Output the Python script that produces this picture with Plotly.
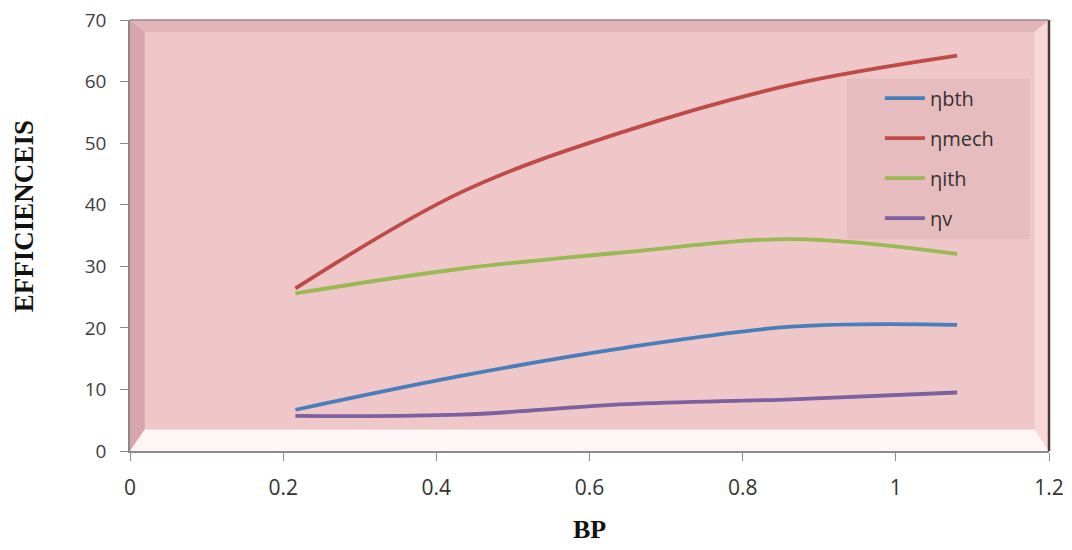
import plotly.graph_objects as go

bp = [0.216, 0.432, 0.648, 0.864, 1.08]
eta_bth = [6.7, 12.2, 16.8, 20.2, 20.5]
eta_mech = [26.4, 42.0, 52.0, 59.5, 64.2]
eta_ith = [25.6, 29.6, 32.3, 34.4, 32.0]
eta_v = [5.7, 5.9, 7.6, 8.4, 9.5]

series = [
    ("ηbth", eta_bth, "#4a7ebb"),
    ("ηmech", eta_mech, "#be4b48"),
    ("ηith", eta_ith, "#98b954"),
    ("ηv", eta_v, "#7d60a0"),
]

x_ticks = [0, 0.2, 0.4, 0.6, 0.8, 1, 1.2]
x_labels = ["0", "0.2", "0.4", "0.6", "0.8", "1", "1.2"]
y_ticks = [0, 10, 20, 30, 40, 50, 60, 70]

fig = go.Figure()
for i, (name, vals, col) in enumerate(series):
    fig.add_trace(go.Scatter(
        x=bp, y=vals, name=name, mode="lines",
        line=dict(color=col, width=3.8, shape="spline", smoothing=1.0),
        legendgroup=f"g{i}",
    ))

# bevel frame shapes (domain fractions of the plot area)
bx = 0.016
by_top = 0.028
by_bot = 0.05
D = dict(xref="x domain", yref="y domain")
shapes = [
    dict(type="path", path=f"M 0 0 L {bx} {by_bot} L {bx} {1-by_top} L 0 1 Z",
         fillcolor="rgba(185,125,135,0.45)", line=dict(width=0), layer="below", **D),
    dict(type="path", path=f"M 0 1 L {bx} {1-by_top} L {1-bx} {1-by_top} L 1 1 Z",
         fillcolor="rgba(200,150,155,0.35)", line=dict(width=0), layer="below", **D),
    dict(type="path", path=f"M 1 1 L {1-bx} {1-by_top} L {1-bx} {by_bot} L 1 0 Z",
         fillcolor="rgba(255,228,228,0.55)", line=dict(width=0), layer="below", **D),
    dict(type="path", path=f"M 0 0 L {bx} {by_bot} L {1-bx} {by_bot} L 1 0 Z",
         fillcolor="rgba(255,250,250,0.92)", line=dict(width=0), layer="below", **D),
    # legend box
    dict(type="rect", x0=0.780, x1=0.979, y0=0.492, y1=0.864,
         fillcolor="rgba(200,150,158,0.22)", line=dict(width=0), layer="below", **D),
    # outline
    dict(type="line", x0=1, x1=1, y0=0, y1=1, line=dict(color="#4a3a3a", width=2.5), layer="above", **D),
    dict(type="line", x0=0, x1=1, y0=1, y1=1, line=dict(color="#a08888", width=1.5), layer="above", **D),
]

fig.update_layout(
    width=1064, height=542,
    margin=dict(l=122, r=23, t=12, b=99, autoexpand=False),
    paper_bgcolor="white",
    plot_bgcolor="#f0c7c8",
    shapes=shapes,
    showlegend=True,
    legend=dict(
        x=0.816, y=0.864, xanchor="left", yanchor="top",
        bgcolor="rgba(0,0,0,0)",
        font=dict(family="Open Sans, sans-serif", size=20, color="#333333"),
        tracegroupgap=11,
        traceorder="grouped",
        itemwidth=40,
        borderwidth=0,
    ),
    annotations=[dict(
        text="<b>EFFICIENCEIS</b>", textangle=-90, showarrow=False,
        xref="paper", yref="paper", x=-0.1153, y=0.545,
        xanchor="center", yanchor="middle",
        font=dict(family="Liberation Serif, Times New Roman, serif", size=27, color="#111111"),
    )],
    xaxis=dict(
        range=[0, 1.2], tickvals=x_ticks, ticktext=x_labels,
        showgrid=False, zeroline=False, automargin=False,
        showline=True, linecolor="#8a8a8a", linewidth=1.5,
        ticks="outside", ticklen=8, tickcolor="#8a8a8a",
        ticklabelstandoff=9, ticklabeloverflow="allow",
        tickfont=dict(family="Open Sans, sans-serif", size=21, color="#333333"),
        title=dict(text="<b>BP</b>", font=dict(family="Liberation Serif, Times New Roman, serif", size=26, color="#111111"), standoff=20),
    ),
    yaxis=dict(
        range=[0, 70], tickvals=y_ticks,
        showgrid=False, zeroline=False, automargin=False,
        showline=True, linecolor="#8a8a8a", linewidth=1.5,
        ticks="outside", ticklen=8, tickcolor="#8a8a8a",
        ticklabelstandoff=10, ticklabeloverflow="allow",
        tickfont=dict(family="Open Sans, sans-serif", size=19, color="#404040"),
    ),
)

fig.write_html("out.html")
